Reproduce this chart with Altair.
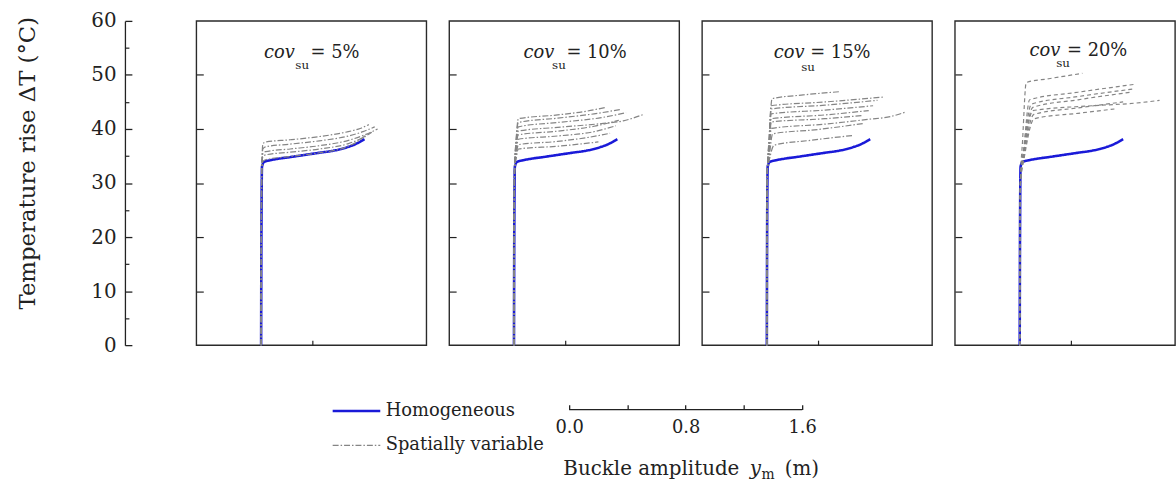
import altair as alt
import pandas as pd

FONT = "DejaVu Serif"
BLUE = "#1a1ad8"
GRAY = "#858585"
INK = "#222222"

# ---------------- data ----------------
blue_x = [0, 0.002, 0.006, 0.02, 0.06, 0.12, 0.2, 0.3, 0.4, 0.5, 0.55, 0.6, 0.64, 0.67, 0.69, 0.71]
blue_y = [0, 20, 33.0, 33.9, 34.2, 34.5, 34.8, 35.2, 35.6, 36.0, 36.3, 36.7, 37.1, 37.5, 37.8, 38.1]

gray_base = [(0, 0), (0.004, 32.5)]
gray_base_20 = [(0, 0), (0.005, 30)]

runs_5 = [
    [(0.012, 37.2), (0.03, 37.6), (0.2, 38.0), (0.4, 38.6), (0.58, 39.4), (0.68, 40.1), (0.74, 40.8)],
    [(0.012, 36.3), (0.03, 36.7), (0.2, 37.2), (0.4, 37.8), (0.6, 38.7), (0.7, 39.5), (0.78, 40.4)],
    [(0.012, 35.4), (0.03, 35.8), (0.2, 36.3), (0.4, 36.9), (0.6, 37.9), (0.72, 39.0), (0.80, 40.0)],
    [(0.012, 34.9), (0.03, 35.2), (0.2, 35.7), (0.4, 36.3), (0.6, 37.3), (0.7, 38.4), (0.76, 39.4)],
    [(0.012, 34.0), (0.03, 34.3), (0.2, 34.9), (0.4, 35.6), (0.58, 36.6), (0.67, 37.8), (0.72, 38.9)],
]
runs_10 = [
    [(0.015, 38.0), (0.03, 41.9), (0.3, 42.6), (0.5, 43.3), (0.63, 44.0)],
    [(0.015, 38.0), (0.03, 41.2), (0.3, 42.0), (0.55, 42.8), (0.73, 43.6)],
    [(0.015, 37.5), (0.03, 40.4), (0.3, 41.2), (0.6, 42.1), (0.77, 43.0)],
    [(0.015, 37.0), (0.03, 39.6), (0.3, 40.3), (0.6, 41.0), (0.75, 41.5), (0.89, 42.7)],
    [(0.015, 36.5), (0.03, 38.9), (0.3, 39.6), (0.55, 40.5), (0.72, 41.6)],
    [(0.015, 35.5), (0.03, 38.1), (0.3, 38.7), (0.55, 39.5), (0.70, 40.6)],
    [(0.015, 35.0), (0.03, 37.1), (0.3, 37.7), (0.5, 38.4), (0.66, 39.2)],
    [(0.015, 34.5), (0.03, 36.3), (0.3, 36.8), (0.58, 37.6)],
]
runs_15 = [
    [(0.015, 38.0), (0.036, 45.6), (0.25, 46.3), (0.5, 46.9)],
    [(0.015, 37.5), (0.03, 44.3), (0.4, 45.0), (0.80, 45.9)],
    [(0.015, 37.0), (0.03, 43.7), (0.4, 44.4), (0.76, 45.3)],
    [(0.015, 36.5), (0.03, 42.8), (0.4, 43.5), (0.73, 44.3)],
    [(0.015, 36.0), (0.03, 41.9), (0.4, 42.6), (0.70, 43.4)],
    [(0.015, 35.5), (0.03, 41.3), (0.4, 41.9), (0.66, 42.5)],
    [(0.015, 35.0), (0.03, 40.1), (0.4, 40.9), (0.7, 41.8), (0.85, 42.3), (0.95, 43.1)],
    [(0.015, 34.5), (0.04, 39.1), (0.35, 39.9), (0.66, 41.0)],
    [(0.015, 34.0), (0.05, 37.0), (0.3, 37.9), (0.59, 38.8)],
]
runs_20 = [
    [(0.02, 38.0), (0.045, 48.6), (0.2, 49.3), (0.43, 50.3)],
    [(0.03, 37.0), (0.068, 45.4), (0.4, 46.8), (0.80, 48.3)],
    [(0.03, 36.5), (0.08, 44.6), (0.4, 46.0), (0.78, 47.4)],
    [(0.03, 36.0), (0.09, 44.0), (0.4, 45.4), (0.76, 46.8)],
    [(0.03, 35.5), (0.09, 43.4), (0.5, 44.3), (0.8, 44.8), (0.96, 45.3)],
    [(0.03, 35.0), (0.097, 42.7), (0.4, 43.9), (0.71, 45.0)],
    [(0.03, 34.5), (0.10, 41.9), (0.4, 42.9), (0.65, 43.7)],
]

cov_values = ["5%", "10%", "15%", "20%"]
title_cov_x = [0.02, 0.066, 0.048, 0.068]
title_su_x = [0.235, 0.262, 0.236, 0.25]
title_eq_x = [0.34, 0.36, 0.298, 0.325]
title_base_y = [53.1, 53.1, 53.2, 53.5]
title_su_y = [51.1, 51.1, 50.8, 51.5]

y_ticks = [0, 10, 20, 30, 40, 50, 60]
y_minor = [5, 15, 25, 35, 45, 55]
scale_ticks = [0, 0.4, 0.8, 1.2, 1.6]
scale_labels = [0, 0.8, 1.6]

SERIES = ["Homogeneous", "Spatially variable"]

# ---------------- helpers ----------------
xs = alt.Scale(domain=[-0.445, 1.135], nice=False, zero=False)
xs4 = alt.Scale(domain=[-0.445, 1.066], nice=False, zero=False)
ys = alt.Scale(domain=[0, 60], nice=False, zero=False)

legend_common = dict(
    orient="none", legendX=136, legendY=368, title=None,
    symbolType="stroke", symbolSize=2304, labelFont=FONT, labelFontSize=18,
    labelColor=INK, rowPadding=-17, labelOffset=4, padding=0,
)
color_enc = alt.Color("series:N", scale=alt.Scale(domain=SERIES, range=[BLUE, GRAY]),
                      legend=alt.Legend(**legend_common))
dash_enc = alt.StrokeDash("series:N", scale=alt.Scale(domain=SERIES, range=[[1, 0], [6, 2, 1.5, 2]]),
                          legend=alt.Legend(**legend_common))
width_enc = alt.StrokeWidth("series:N", scale=alt.Scale(domain=SERIES, range=[2.6, 1.2]),
                            legend=alt.Legend(**legend_common))

blue_df = pd.DataFrame({"x": blue_x, "y": blue_y, "order": range(len(blue_x)),
                        "series": "Homogeneous"})


def gray_df(runs, base):
    rows = []
    for i, run in enumerate(runs):
        pts = base + run
        for j, (x, y) in enumerate(pts):
            rows.append({"run": i, "order": j, "x": x, "y": y, "series": "Spatially variable"})
    return pd.DataFrame(rows)


inner_y_axis = alt.Axis(orient="left", offset=-7, domain=False, labels=False, ticks=True,
                        tickSize=7, tickWidth=1.2, tickColor=INK, values=[10, 20, 30, 40, 50],
                        grid=False, title=None)
inner_x_axis = alt.Axis(orient="bottom", offset=-5, domain=False, labels=False, ticks=True,
                        tickSize=5, tickWidth=1.2, tickColor=INK, values=[0.35],
                        grid=False, title=None)

main_axis = alt.Axis(orient="left", offset=72, domain=True, domainColor=INK, domainWidth=1.3,
                     ticks=False, tickSize=0, labels=True, values=y_ticks, labelFont=FONT,
                     labelFontSize=20, labelColor=INK, labelPadding=9, grid=False,
                     title="Temperature rise ΔT (°C)", titleFont=FONT, titleFontSize=23,
                     titleFontWeight="normal", titleColor=INK, titleAngle=-90,
                     titleBaseline="middle", titleAlign="center", titleX=-98, titleY=143)
major_axis = alt.Axis(orient="left", offset=65, domain=False, labels=False, ticks=True,
                      tickSize=7, tickWidth=1.3, tickColor=INK, values=y_ticks, grid=False, title=None)
minor_axis = alt.Axis(orient="left", offset=68, domain=False, labels=False, ticks=True,
                      tickSize=4, tickWidth=1.2, tickColor=INK, values=y_minor, grid=False, title=None)


def panel(k, runs, base, dash, first, width, xscale):
    gdf = gray_df(runs, base)
    blue = alt.Chart(blue_df).mark_line(interpolate="monotone").encode(
        x=alt.X("x:Q", scale=xscale, axis=None),
        y=alt.Y("y:Q", scale=ys, axis=main_axis if first else None),
        order="order:Q", color=color_enc, strokeDash=dash_enc, strokeWidth=width_enc,
    )
    g_enc = dict(
        x=alt.X("x:Q", scale=xscale, axis=inner_x_axis),
        y=alt.Y("y:Q", scale=ys, axis=inner_y_axis),
        detail="run:N", order="order:Q", color=color_enc, strokeWidth=width_enc,
    )
    if dash is None:
        g_enc["strokeDash"] = dash_enc
    else:
        g_enc["strokeDash"] = alt.value(dash)
    gray = alt.Chart(gdf).mark_line(interpolate="monotone").encode(**g_enc)

    tdf = pd.DataFrame({
        "x": [title_cov_x[k], title_su_x[k], title_eq_x[k]],
        "y": [title_base_y[k], title_su_y[k], title_base_y[k]],
        "t": ["cov", "su", "= " + cov_values[k]],
        "part": ["cov", "su", "eq"],
    })
    t_cov = alt.Chart(tdf).transform_filter(alt.datum.part == "cov").mark_text(
        align="left", baseline="alphabetic", font=FONT, fontSize=18, fontStyle="italic", color=INK
    ).encode(x=alt.X("x:Q", scale=xscale, axis=None), y=alt.Y("y:Q", scale=ys, axis=None), text="t:N")
    t_su = alt.Chart(tdf).transform_filter(alt.datum.part == "su").mark_text(
        align="left", baseline="alphabetic", font=FONT, fontSize=12, color=INK
    ).encode(x=alt.X("x:Q", scale=xscale, axis=None), y=alt.Y("y:Q", scale=ys, axis=None), text="t:N")
    t_eq = alt.Chart(tdf).transform_filter(alt.datum.part == "eq").mark_text(
        align="left", baseline="alphabetic", font=FONT, fontSize=18, color=INK
    ).encode(x=alt.X("x:Q", scale=xscale, axis=None), y=alt.Y("y:Q", scale=ys, axis=None), text="t:N")

    layers = [blue, gray, t_cov, t_su, t_eq]
    if first:
        tick_df = pd.DataFrame({"y": y_ticks, "x": [0.0] * len(y_ticks)})
        minor_df = pd.DataFrame({"y": y_minor, "x": [0.0] * len(y_minor)})
        layers.append(alt.Chart(tick_df).mark_point(opacity=0).encode(
            x=alt.X("x:Q", scale=xscale, axis=None),
            y=alt.Y("y:Q", scale=ys, axis=major_axis)))
        layers.append(alt.Chart(minor_df).mark_point(opacity=0).encode(
            x=alt.X("x:Q", scale=xscale, axis=None),
            y=alt.Y("y:Q", scale=ys, axis=minor_axis)))
    return alt.layer(*layers).resolve_axis(y="independent", x="independent").properties(
        width=width, height=327)


p1 = panel(0, runs_5, gray_base, None, True, 232, xs)
p2 = panel(1, runs_10, gray_base, None, False, 232, xs)
p3 = panel(2, runs_15, gray_base, None, False, 232, xs)
p4 = panel(3, runs_20, gray_base_20, [4, 3], False, 222, xs4)

top = alt.hconcat(p1, p2, p3, p4, spacing=20)

# ---------------- bottom: scale bar + axis title ----------------
bx = alt.Scale(domain=[-2.56, 2.206], nice=False, zero=False)
by = alt.Scale(domain=[0, 1], nice=False, zero=False)
bar_df = pd.DataFrame({"x": [scale_ticks[0]], "x2": [scale_ticks[-1]], "y": [1.0]})
bar = alt.Chart(bar_df).mark_rule(color=INK, strokeWidth=1.4).encode(
    x=alt.X("x:Q", scale=bx, axis=alt.Axis(orient="top", domain=False, labels=False, ticks=True,
                                           tickSize=5, tickWidth=1.3, tickColor=INK,
                                           values=scale_ticks, grid=False, title=None)),
    x2="x2:Q",
    y=alt.Y("y:Q", scale=by, axis=None),
)
lab_df = pd.DataFrame({"x": scale_labels, "y": [1.0] * len(scale_labels)})
labs = alt.Chart(lab_df).mark_point(opacity=0).encode(
    x=alt.X("x:Q", scale=bx, axis=alt.Axis(orient="top", offset=-27, domain=False, ticks=False,
                                           tickSize=0, labels=True, values=scale_labels,
                                           format=".1f", labelFont=FONT, labelFontSize=18,
                                           labelColor=INK, labelPadding=0, grid=False, title=None)),
    y=alt.Y("y:Q", scale=by, axis=None),
)
xt_df = pd.DataFrame({
    "x": [-0.04, 1.24, 1.32, 1.48],
    "y": [0.12, 0.12, 0.065, 0.12],
    "t": ["Buckle amplitude", "y", "m", "(m)"],
    "part": ["a", "y", "m", "b"],
})
xt_a = alt.Chart(xt_df).transform_filter("datum.part == 'a' || datum.part == 'b'").mark_text(
    align="left", baseline="alphabetic", font=FONT, fontSize=20, color=INK
).encode(x=alt.X("x:Q", scale=bx, axis=None), y=alt.Y("y:Q", scale=by, axis=None), text="t:N")
xt_y = alt.Chart(xt_df).transform_filter(alt.datum.part == "y").mark_text(
    align="left", baseline="alphabetic", font=FONT, fontSize=20, fontStyle="italic", color=INK
).encode(x=alt.X("x:Q", scale=bx, axis=None), y=alt.Y("y:Q", scale=by, axis=None), text="t:N")
xt_m = alt.Chart(xt_df).transform_filter(alt.datum.part == "m").mark_text(
    align="left", baseline="alphabetic", font=FONT, fontSize=14, color=INK
).encode(x=alt.X("x:Q", scale=bx, axis=None), y=alt.Y("y:Q", scale=by, axis=None), text="t:N")

bottom = alt.layer(bar, labs, xt_a, xt_y, xt_m).resolve_axis(x="independent").properties(
    width=700, height=75, view=alt.ViewBackground(stroke="transparent"))

chart = alt.vconcat(top, bottom, spacing=47).properties(
    padding={"left": 16, "top": 8, "right": 0, "bottom": 0},
    background="white",
).configure_view(stroke="#2a2a2a", strokeWidth=1.4).configure_axis(grid=False)

chart.save("out.html", embed_options={"renderer": "svg", "actions": False})
